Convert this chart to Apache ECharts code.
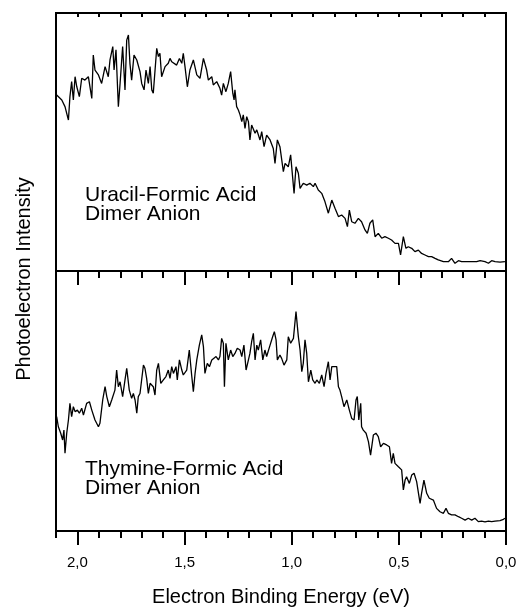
<!DOCTYPE html>
<html><head><meta charset="utf-8">
<script src="https://cdn.jsdelivr.net/npm/echarts@6/dist/echarts.min.js"></script>
<style>html,body{margin:0;padding:0;background:#fff}#c{width:520px;height:608px}</style>
</head><body><div id="c"></div>
<script>
// Upper panel: Uracil-Formic Acid dimer anion
const uracilEnergy = [
2.097,2.073,2.058,2.042,2.035,2.027,2.019,2.011,2.003,1.991,
1.980,1.965,1.949,1.941,1.933,1.926,1.918,1.902,1.887,1.871,
1.856,1.848,1.835,1.829,1.820,1.809,1.801,1.789,1.778,1.770,
1.762,1.755,1.747,1.736,1.723,1.708,1.700,1.689,1.680,1.669,
1.661,1.653,1.646,1.638,1.630,1.622,1.615,1.607,1.599,1.591,
1.576,1.568,1.560,1.552,1.537,1.524,1.513,1.506,1.498,1.487,
1.475,1.459,1.443,1.428,1.412,1.397,1.389,1.373,1.366,1.350,
1.335,1.327,1.319,1.307,1.296,1.285,1.275,1.269,1.265,1.257,
1.249,1.241,1.233,1.226,1.218,1.210,1.202,1.195,1.187,1.171,
1.163,1.148,1.140,1.129,1.117,1.101,1.086,1.078,1.067,1.055,
1.039,1.031,1.016,1.005,0.989,0.980,0.969,0.961,0.946,0.930,
0.915,0.899,0.891,0.876,0.860,0.845,0.829,0.813,0.798,0.782,
0.767,0.751,0.740,0.731,0.720,0.705,0.689,0.674,0.658,0.647,
0.635,0.622,0.611,0.596,0.580,0.565,0.549,0.534,0.518,0.502,
0.492,0.479,0.467,0.456,0.440,0.425,0.409,0.394,0.378,0.362,
0.347,0.331,0.316,0.292,0.269,0.254,0.238,0.222,0.207,0.184,
0.160,0.137,0.121,0.098,0.082,0.067,0.051,0.028,0.005
];
const uracilIntensity = [
68.2,66.3,63.7,58.5,67.6,73.4,66.3,75.3,71.4,67.6,
74.7,74.0,75.3,76.0,66.9,83.7,77.9,76.0,72.7,79.2,
75.3,81.8,87.0,77.9,85.7,63.7,72.7,87.0,70.2,89.5,
91.5,80.5,74.0,83.7,81.8,77.3,72.7,70.2,77.9,72.7,
79.2,70.2,68.9,68.2,86.3,83.1,84.4,75.3,74.7,79.2,
80.5,82.4,81.1,81.8,79.8,82.4,80.5,84.4,79.2,71.4,
77.9,81.8,76.0,74.7,82.4,77.9,74.0,75.3,72.1,73.4,
70.8,68.2,72.7,69.5,72.7,77.3,68.9,66.3,70.2,63.7,
62.4,60.5,57.9,60.5,55.3,59.8,57.9,50.8,56.6,53.4,
54.7,50.8,54.0,48.2,52.7,50.8,47.5,41.7,50.8,48.2,
38.5,41.7,40.4,45.0,30.1,40.4,37.9,32.0,34.0,33.3,
34.0,32.7,34.0,31.4,30.1,26.9,22.4,27.5,24.3,21.1,
21.7,20.4,17.2,23.6,19.1,18.5,20.4,19.1,15.9,14.6,
18.5,19.8,13.3,14.6,12.7,13.3,12.7,12.0,10.7,10.7,
6.2,13.3,8.8,9.4,8.8,7.5,8.1,6.8,6.2,5.6,
5.6,4.9,4.3,3.6,3.6,4.9,3.0,4.0,3.6,3.6,
3.6,3.6,4.0,3.6,3.0,4.0,3.6,3.4,3.6
];
// Lower panel: Thymine-Formic Acid dimer anion
const thymineEnergy = [
2.097,2.089,2.078,2.069,2.063,2.058,2.050,2.042,2.035,2.027,
2.019,2.011,2.000,1.991,1.980,1.972,1.957,1.944,1.933,1.918,
1.902,1.895,1.882,1.871,1.863,1.851,1.840,1.825,1.817,1.809,
1.801,1.789,1.778,1.770,1.758,1.747,1.739,1.731,1.723,1.716,
1.708,1.692,1.685,1.677,1.669,1.661,1.646,1.638,1.630,1.622,
1.611,1.599,1.587,1.576,1.568,1.560,1.552,1.540,1.534,1.524,
1.513,1.506,1.490,1.478,1.467,1.459,1.451,1.443,1.431,1.420,
1.412,1.405,1.394,1.384,1.373,1.366,1.353,1.342,1.335,1.327,
1.319,1.314,1.307,1.296,1.285,1.275,1.265,1.254,1.241,1.233,
1.223,1.213,1.202,1.195,1.187,1.179,1.171,1.163,1.156,1.145,
1.135,1.125,1.117,1.101,1.089,1.081,1.073,1.067,1.055,
1.047,1.036,1.023,1.016,1.005,0.992,0.980,0.969,0.961,0.953,
0.946,0.938,0.930,0.922,0.911,0.902,0.891,0.883,0.871,0.860,
0.849,0.840,0.829,0.821,0.813,0.806,0.790,0.782,0.775,0.767,
0.756,0.743,0.731,0.720,0.709,0.700,0.694,0.687,0.678,0.674,
0.666,0.653,0.642,0.632,0.619,0.607,0.596,0.585,0.572,0.557,
0.544,0.534,0.526,0.518,0.502,0.487,0.479,0.471,0.464,0.451,
0.440,0.429,0.417,0.401,0.394,0.383,0.370,0.358,0.339,0.324,
0.308,0.292,0.280,0.269,0.254,0.238,0.222,0.207,0.191,0.176,
0.160,0.145,0.129,0.114,0.098,0.082,0.067,0.051,0.028,0.012,0.005
];
const thymineIntensity = [
44.0,40.1,37.6,35.0,38.8,29.9,37.6,42.7,49.1,44.0,
47.8,45.9,46.5,45.3,47.2,44.6,49.1,49.7,46.5,42.7,
40.1,41.4,50.4,55.5,51.7,47.8,50.4,54.2,61.9,55.5,
57.4,51.7,58.1,62.6,54.2,51.0,52.9,50.4,45.3,51.7,
52.9,63.8,62.6,58.7,52.9,56.8,55.5,52.3,61.9,64.5,
56.8,58.1,59.4,61.9,58.7,63.2,60.6,63.2,58.1,65.8,
61.9,60.0,61.9,69.6,60.0,53.6,60.6,65.8,71.5,75.4,
70.9,60.6,64.5,63.2,65.8,65.1,67.1,65.8,67.1,74.1,
72.2,55.5,72.2,65.8,69.6,67.1,68.3,70.3,69.6,67.1,
71.5,61.9,65.8,68.3,72.8,76.0,65.8,71.5,69.6,73.5,
65.8,69.6,67.1,71.5,74.7,76.7,73.5,65.8,67.7,
66.4,63.8,65.8,74.7,72.2,74.1,84.4,74.7,69.6,61.3,
64.5,73.5,68.3,57.4,61.9,58.1,56.8,58.1,56.8,60.0,
55.5,60.6,65.1,58.1,63.2,63.8,63.2,55.5,54.2,51.7,
47.8,50.4,46.5,43.3,42.7,50.4,51.7,42.7,49.1,40.1,
38.8,37.6,34.4,29.2,36.9,37.6,36.3,32.4,33.7,33.1,
32.4,26.0,29.9,26.0,24.7,23.5,15.8,19.6,20.9,18.3,
21.5,22.2,19.0,10.6,14.5,19.6,14.5,12.6,11.9,8.7,
7.4,6.8,8.7,6.8,6.2,6.2,5.5,4.9,4.2,4.9,
4.2,4.9,3.6,3.8,3.5,3.8,3.6,3.8,4.0,4.5,4.9
];
const majorTicks = [0, 0.5, 1.0, 1.5, 2.0];
const tickLabels = ['0,0', '0,5', '1,0', '1,5', '2,0'];
const minorTicks = [0,0.1,0.2,0.3,0.4,0.5,0.6,0.7,0.8,0.9,1.0,1.1,1.2,1.3,1.4,1.5,1.6,1.7,1.8,1.9,2.0,2.1];
const xTitle = 'Electron Binding Energy (eV)';
const yTitle = 'Photoelectron Intensity';
const upperText = 'Uracil-Formic Acid\nDimer Anion';
const lowerText = 'Thymine-Formic Acid\nDimer Anion';

const FONT = "'Liberation Sans', Arial, Helvetica, sans-serif";
const chart = echarts.init(document.getElementById('c'), null, {renderer: 'canvas'});

function xAx(gridIndex, position, ticks, len, inside, labels) {
  return {
    type: 'value', gridIndex: gridIndex, position: position, min: 0, max: 2.1, inverse: true,
    axisLine: {show: false}, splitLine: {show: false},
    axisTick: {show: true, inside: inside, length: len, customValues: ticks,
               lineStyle: {color: '#000', width: 2}},
    axisLabel: labels ? {
      show: true, customValues: majorTicks, margin: 24, color: '#000',
      fontFamily: FONT, fontSize: 15,
      formatter: function (v) {
        for (let i = 0; i < majorTicks.length; i++) {
          if (Math.abs(majorTicks[i] - v) < 1e-6) return tickLabels[i];
        }
        return '';
      }
    } : {show: false}
  };
}

const option = {
  backgroundColor: '#fff',
  animation: false,
  grid: [
    {left: 56, top: 13, width: 450, height: 258, show: true, borderColor: '#000', borderWidth: 2, backgroundColor: 'transparent'},
    {left: 56, top: 271, width: 450, height: 260, show: true, borderColor: '#000', borderWidth: 2, backgroundColor: 'transparent'}
  ],
  xAxis: [
    xAx(0, 'top', majorTicks, 7, true, false),
    xAx(0, 'top', minorTicks, 4, true, false),
    xAx(1, 'bottom', majorTicks, 14, false, true),
    xAx(1, 'bottom', minorTicks, 7, false, false),
    xAx(1, 'top', majorTicks, 14, true, false),
    xAx(1, 'top', minorTicks, 7, true, false)
  ],
  yAxis: [
    {type: 'value', gridIndex: 0, min: 0, max: 100, show: false},
    {type: 'value', gridIndex: 1, min: 0, max: 100, show: false}
  ],
  series: [
    {type: 'line', xAxisIndex: 0, yAxisIndex: 0, showSymbol: false, symbol: 'none',
     lineStyle: {color: '#000', width: 1.3}, data: uracilEnergy.map((e, i) => [e, uracilIntensity[i]])},
    {type: 'line', xAxisIndex: 2, yAxisIndex: 1, showSymbol: false, symbol: 'none',
     lineStyle: {color: '#000', width: 1.3}, data: thymineEnergy.map((e, i) => [e, thymineIntensity[i]])}
  ],
  graphic: [
    {type: 'text', x: 281, y: 597, style: {text: xTitle, font: '20px ' + FONT, fill: '#000', textAlign: 'center', textVerticalAlign: 'middle'}},
    {type: 'text', x: 24, y: 279, rotation: Math.PI / 2, style: {text: yTitle, font: '20px ' + FONT, fill: '#000', textAlign: 'center', textVerticalAlign: 'middle'}},
    {type: 'text', x: 85, y: 185, style: {text: upperText, font: '21px ' + FONT, lineHeight: 19.5, fill: '#000', textAlign: 'left', textVerticalAlign: 'top'}},
    {type: 'text', x: 85, y: 459, style: {text: lowerText, font: '21px ' + FONT, lineHeight: 19.5, fill: '#000', textAlign: 'left', textVerticalAlign: 'top'}}
  ]
};
chart.setOption(option);
</script>
</body></html>
